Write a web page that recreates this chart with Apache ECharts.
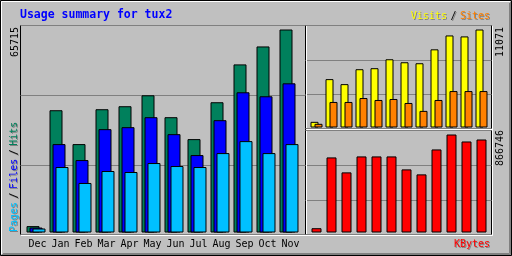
<!DOCTYPE html>
<html><head><meta charset="utf-8">
<script src="https://cdn.jsdelivr.net/npm/echarts@6/dist/echarts.min.js"></script>
<style>html,body{margin:0;padding:0;background:#c0c0c0}#c{width:512px;height:256px}</style>
</head><body><div id="c"></div>
<script>
// ---- data ----
const months = ['Dec','Jan','Feb','Mar','Apr','May','Jun','Jul','Aug','Sep','Oct','Nov'];
const hits   = [2065,39580,28615,39905,40875,44420,37325,30230,42165,54420,60230,65715];
const files  = [1600,28615,23450,33455,34100,37325,31840,25065,36360,45390,44100,48290];
const pages  = [1290,21195,16030,19905,19580,22485,21520,21195,25710,29580,25710,28615];
const visits = [640,5465,4900,6585,6700,7710,7370,7260,8830,10400,10290,11071];
const sites  = [415,2885,2885,3330,3110,3220,2770,1875,3110,4115,4115,4115];
const kbytes = [38000,664000,531700,672800,672800,672800,558100,514000,734500,866746,805000,822600];
const maxHits = 65715, maxVisits = 11071, maxKBytes = 866746;
const titleText = 'Usage summary for tux2';

// ---- styles ----
const BG = '#c0c0c0', DK = '#808080';
const C = {hits:'#00805c', files:'#0000ff', pages:'#00c0ff', visits:'#ffff00', sites:'#ff8000', kbytes:'#ff0000'};
const MONO = '"DejaVu Sans Mono", monospace';

const chart = echarts.init(document.getElementById('c'), null, {renderer:'canvas'});

function frameGrid(l,t,w,h){ return {left:l, top:t, width:w, height:h, show:true, borderColor:'#000', borderWidth:1, backgroundColor:'transparent'}; }
function frameY(i){ return {gridIndex:i, type:'value', min:0, max:3, interval:1, axisLine:{show:false}, axisTick:{show:false}, axisLabel:{show:false}, splitLine:{show:true, lineStyle:{color:DK, width:1}}}; }
function frameX(i){ return {gridIndex:i, type:'value', min:0, max:1, show:false}; }
function barS(name, data, xi, color, w, gap){
  return {name, type:'bar', xAxisIndex:xi, yAxisIndex:xi, data, barWidth:w, barGap:gap, silent:true,
    itemStyle:{color, borderColor:'#000', borderWidth:1}, emphasis:{disabled:true}};
}
function text(x,y,t,fill,o){
  o=o||{};
  return {type:'text', x, y, rotation:o.rot||0, silent:true, z:100,
    style:{text:t, x:0, y:0, fill, font:(o.bold?'bold ':'')+(o.size||10)+'px '+MONO, align:o.align||'left', verticalAlign:'middle', rich:o.rich}};
}
function tok(fill, w){ const r={fill, fontSize:10, fontFamily:MONO}; if(w){r.width=w; r.align='center';} return r; }
function richSet(shadow){
  return {
    p:tok(shadow||C.pages), f:tok(shadow||C.files), h:tok(shadow||C.hits),
    v:tok(shadow||C.visits), t:tok(shadow||C.sites), s:tok(shadow||'#000',13)
  };
}
const up = Math.PI/2;
const legendLeft = '{p|Pages}{s|/}{f|Files}{s|/}{h|Hits}';
const legendRight = '{v|Visits}{s|/}{t|Sites}';

const graphic = [
  // outer 3D border
  {type:'rect', silent:true, z:90, shape:{x:0.5,y:0.5,width:511,height:255}, style:{fill:'none', stroke:'#000', lineWidth:1}},
  {type:'polyline', silent:true, z:90, shape:{points:[[1.5,254],[1.5,1.5],[510,1.5]]}, style:{fill:'none', stroke:'#fff', lineWidth:1}},
  {type:'polyline', silent:true, z:90, shape:{points:[[2,254.5],[510.5,254.5],[510.5,2]]}, style:{fill:'none', stroke:DK, lineWidth:1}},
  {type:'polyline', silent:true, z:90, shape:{points:[[3,253.5],[509.5,253.5],[509.5,3]]}, style:{fill:'none', stroke:DK, lineWidth:1}},
  // inner white highlights
  {type:'polyline', silent:true, z:90, shape:{points:[[21,235.5],[492.5,235.5],[492.5,26]]}, style:{fill:'none', stroke:'#fff', lineWidth:1}},
  {type:'line', silent:true, z:90, shape:{x1:306.5,y1:26,x2:306.5,y2:128}, style:{stroke:'#fff', lineWidth:1}},
  {type:'line', silent:true, z:90, shape:{x1:306.5,y1:131,x2:306.5,y2:234}, style:{stroke:'#fff', lineWidth:1}},
  {type:'line', silent:true, z:90, shape:{x1:306,y1:129.5,x2:492,y2:129.5}, style:{stroke:'#fff', lineWidth:1}},
  // title
  text(20, 15, titleText, '#0000ff', {bold:true, size:11.5}),
  // left scale + legend
  text(15, 57, String(maxHits), '#000', {rot:up}),
  text(15, 233, legendLeft, DK, {rot:up, rich:richSet(DK)}),
  text(14, 232, legendLeft, '#000', {rot:up, rich:richSet()}),
  // right scale labels
  text(500, 57, String(maxVisits), '#000', {rot:up}),
  text(500, 166, String(maxKBytes), '#000', {rot:up}),
  // right legends
  text(491, 17, legendRight, DK, {align:'right', rich:richSet(DK)}),
  text(490, 16, legendRight, '#000', {align:'right', rich:richSet()}),
  text(491, 245, 'KBytes', DK, {align:'right'}),
  text(490, 244, 'KBytes', C.kbytes, {align:'right'})
];

const option = {
  animation:false,
  backgroundColor:BG,
  grid:[
    frameGrid(20.5,25.5,285,209),
    frameGrid(305.5,25.5,186,103),
    frameGrid(305.5,130.5,186,104),
    {left:24.5, top:29.5, width:276, height:203},
    {left:309, top:29.5, width:180, height:98},
    {left:309, top:134.5, width:180, height:98}
  ],
  xAxis:[
    frameX(0), frameX(1), frameX(2),
    {gridIndex:3, type:'category', data:months, axisLine:{show:false}, axisTick:{show:false},
      axisLabel:{interval:0, color:'#000', fontFamily:MONO, fontSize:10, margin:7, padding:[0,0,0,3]}},
    {gridIndex:4, type:'category', data:months, show:false},
    {gridIndex:5, type:'category', data:months, show:false}
  ],
  yAxis:[
    frameY(0), frameY(1), frameY(2),
    {gridIndex:3, type:'value', min:0, max:maxHits, show:false},
    {gridIndex:4, type:'value', min:0, max:maxVisits, show:false},
    {gridIndex:5, type:'value', min:0, max:maxKBytes, show:false}
  ],
  series:[
    barS('Hits', hits, 3, C.hits, 13, '-77%'),
    barS('Files', files, 3, C.files, 13, '-77%'),
    barS('Pages', pages, 3, C.pages, 13, '-77%'),
    barS('Visits', visits, 4, C.visits, 8, '-50%'),
    barS('Sites', sites, 4, C.sites, 8, '-50%'),
    barS('KBytes', kbytes, 5, C.kbytes, 10, '0%')
  ],
  graphic
};
chart.setOption(option);
</script></body></html>
